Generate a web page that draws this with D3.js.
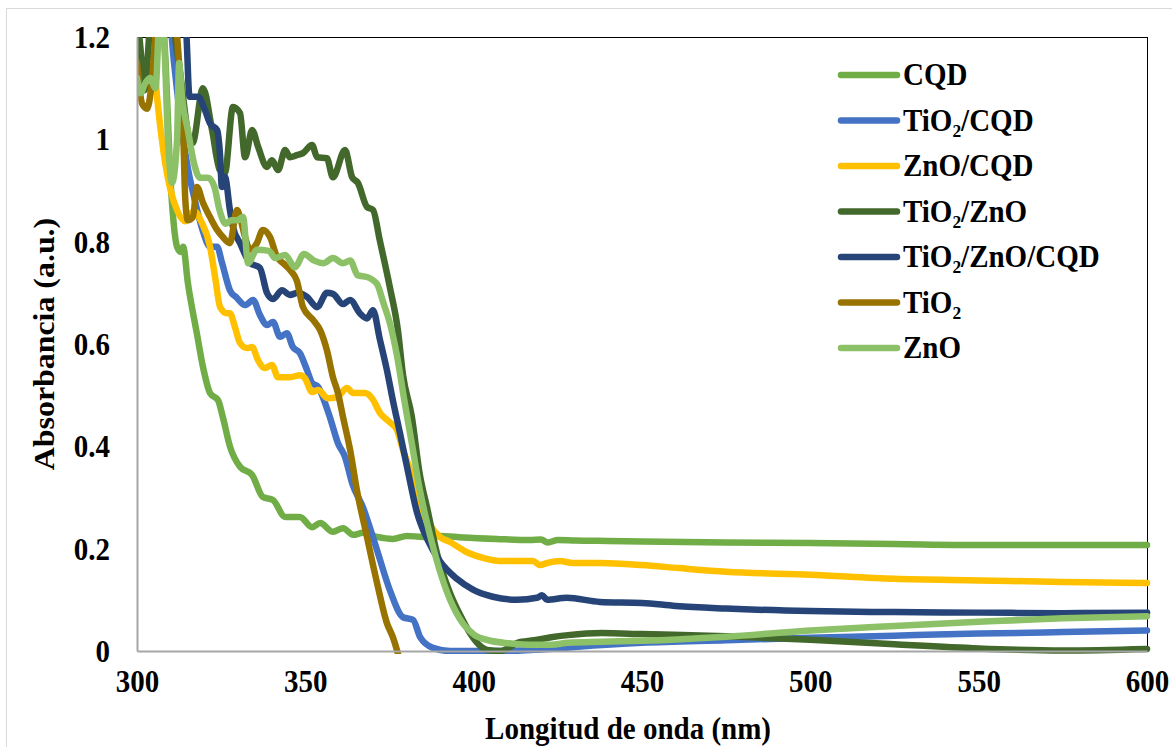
<!DOCTYPE html>
<html>
<head>
<meta charset="utf-8">
<script src="https://cdn.jsdelivr.net/npm/d3@7"></script>
<style>
  body { margin: 0; background: #fff; }
</style>
</head>
<body>
<svg id="chart" width="1172" height="747"></svg>
<script>
// UV-Vis absorbance spectra, wavelength (nm) vs absorbance (a.u.)
const cqdWl  = [300, 304, 307, 308.5, 309.8, 310.7, 311.9, 313.0, 313.7, 315.1, 317.8, 319.6, 321.7, 324.1, 325.5, 327.6, 330.6, 334.2, 337.4, 340.4, 344.0, 348.4, 352.0, 354.4, 358.2, 361.2, 364.2, 367.1, 371.3, 376.0, 380.2, 384.9, 390.0, 396.8, 406.9, 416.7, 420, 422, 425, 430, 440, 450, 475, 500, 525, 550, 575, 600];
const cqdAbs = [1.3, 1.3, 1.28, 1.15, 0.94, 0.85, 0.79, 0.78, 0.79, 0.72, 0.62, 0.555, 0.504, 0.49, 0.457, 0.40, 0.36, 0.344, 0.301, 0.295, 0.262, 0.262, 0.242, 0.25, 0.233, 0.24, 0.227, 0.231, 0.223, 0.219, 0.225, 0.223, 0.225, 0.222, 0.219, 0.217, 0.218, 0.212, 0.217, 0.216, 0.215, 0.214, 0.212, 0.211, 0.209, 0.207, 0.207, 0.207];

const tiCqdWl  = [300, 305, 309, 311, 313.7, 315.1, 317.2, 319.6, 321.7, 323.8, 325.2, 327.6, 329.7, 332.1, 334.5, 336.5, 338.6, 340.4, 342.5, 344.5, 346.3, 348.4, 350.5, 352.0, 353.8, 355.2, 357.3, 359.7, 361.8, 363.9, 367.1, 371.3, 375.1, 379.0, 382.0, 384.1, 387.9, 393, 400, 410, 420, 430, 450, 475, 500, 525, 550, 575, 600];
const tiCqdAbs = [1.3, 1.3, 1.28, 1.15, 1.0, 0.944, 0.88, 0.82, 0.79, 0.79, 0.76, 0.705, 0.69, 0.676, 0.686, 0.657, 0.637, 0.643, 0.614, 0.621, 0.594, 0.582, 0.549, 0.524, 0.516, 0.496, 0.457, 0.406, 0.379, 0.328, 0.281, 0.197, 0.119, 0.066, 0.061, 0.027, 0.006, 0.0, 0.0, 0.0, 0.003, 0.008, 0.016, 0.021, 0.026, 0.030, 0.034, 0.037, 0.040];

const znCqdWl  = [300, 303, 304.5, 306, 308, 310, 312, 314.3, 315.5, 317, 319, 321.7, 323.2, 324.7, 326.7, 327.6, 329.1, 330.6, 332.7, 334.2, 335.9, 338, 340.1, 341.9, 345.4, 348.4, 349.9, 352, 353.8, 356.7, 359.4, 362.4, 364.2, 367.7, 369.8, 372.2, 375.1, 377.2, 379, 381.1, 382.5, 383.5, 387, 390, 393, 398, 402.8, 407.8, 417.6, 419.7, 421.8, 425.6, 429.5, 437.5, 450, 461, 475, 500, 525, 550, 575, 600];
const znCqdAbs = [1.3, 1.25, 1.2, 1.08, 0.97, 0.9, 0.86, 0.84, 0.85, 0.86, 0.84, 0.79, 0.731, 0.672, 0.66, 0.66, 0.633, 0.602, 0.592, 0.594, 0.569, 0.553, 0.559, 0.535, 0.535, 0.539, 0.533, 0.506, 0.51, 0.494, 0.496, 0.514, 0.504, 0.504, 0.494, 0.465, 0.447, 0.432, 0.393, 0.354, 0.318, 0.29, 0.246, 0.223, 0.213, 0.193, 0.182, 0.176, 0.176, 0.168, 0.172, 0.176, 0.172, 0.172, 0.168, 0.162, 0.155, 0.149, 0.141, 0.138, 0.135, 0.133];

const tiZnWl  = [300, 301, 302.3, 303.8, 305, 309.9, 312.8, 315.6, 316.5, 319.6, 322.3, 324.6, 326.1, 328.5, 330.6, 332.1, 334.2, 336, 338.6, 340.1, 341.9, 344, 345.4, 347.5, 349.3, 352, 353.5, 356.4, 358.2, 361.8, 363.9, 365.6, 368.3, 370.1, 372.1, 375.1, 377.5, 379, 381.6, 384, 386.1, 389.1, 393, 396.8, 398.9, 404, 408, 413, 418, 423, 428, 438, 450, 475, 500, 525, 550, 575, 600];
const tiZnAbs = [1.25, 1.18, 1.096, 1.22, 1.3, 1.25, 1.13, 1.0, 0.993, 1.10, 1.018, 0.94, 0.934, 1.063, 1.051, 0.965, 1.018, 0.985, 0.946, 0.959, 0.94, 0.979, 0.965, 0.969, 0.973, 0.989, 0.965, 0.963, 0.926, 0.979, 0.926, 0.915, 0.868, 0.862, 0.803, 0.711, 0.627, 0.54, 0.459, 0.345, 0.282, 0.191, 0.113, 0.06, 0.035, 0.002, 0.0, 0.016, 0.021, 0.027, 0.031, 0.035, 0.033, 0.029, 0.022, 0.013, 0.005, 0.001, 0.004];

const tiZnCqdWl  = [300, 310, 314.5, 315.6, 318.1, 320.2, 321.7, 323.8, 324.7, 325.2, 326.1, 327.6, 328.5, 330.6, 333.6, 336.5, 338.6, 340.4, 343.1, 345.4, 347.8, 350.5, 353.5, 356.4, 358.2, 361.2, 363.3, 366.2, 368.3, 370.1, 372.1, 374.2, 376, 378.1, 380.2, 383.2, 386.1, 390, 395, 399.8, 405.7, 412.9, 418.8, 420.3, 421.8, 427.7, 437.5, 450, 460, 475, 500, 525, 550, 575, 600];
const tiZnCqdAbs = [1.3, 1.3, 1.22, 1.083, 1.083, 1.057, 1.031, 1.018, 0.966, 0.907, 0.927, 0.862, 0.829, 0.797, 0.758, 0.749, 0.70, 0.688, 0.705, 0.696, 0.70, 0.692, 0.672, 0.70, 0.698, 0.678, 0.686, 0.66, 0.65, 0.666, 0.61, 0.55, 0.49, 0.426, 0.36, 0.27, 0.22, 0.175, 0.141, 0.12, 0.106, 0.10, 0.104, 0.109, 0.10, 0.104, 0.096, 0.094, 0.088, 0.083, 0.078, 0.076, 0.075, 0.074, 0.075];

const tiWl  = [300, 301.5, 303, 304.2, 305.5, 307, 310, 312.5, 313.7, 314.3, 315.1, 316.6, 317.8, 319.6, 321.7, 323.8, 325.5, 327.6, 329.7, 330.6, 332.1, 333.6, 335.6, 337.4, 339.5, 341.6, 343.4, 345.4, 347.5, 349.3, 352.3, 354.4, 356.4, 358.2, 359.7, 361.2, 363.3, 365.3, 368.3, 371.3, 374.2, 376.0, 377.2, 378.5];
const tiAbs = [1.15, 1.07, 1.06, 1.1, 1.2, 1.3, 1.3, 1.15, 1.024, 0.887, 0.842, 0.848, 0.907, 0.876, 0.848, 0.823, 0.809, 0.797, 0.862, 0.848, 0.809, 0.784, 0.797, 0.823, 0.809, 0.770, 0.758, 0.745, 0.723, 0.672, 0.647, 0.627, 0.588, 0.535, 0.504, 0.457, 0.393, 0.315, 0.223, 0.133, 0.055, 0.027, 0.002, -0.03];

const znWl  = [300, 301, 302.5, 303.9, 305.5, 306.8, 308, 309.2, 310.4, 311.9, 312.5, 313.4, 315.1, 316.9, 318.7, 321.1, 323, 324.5, 326.4, 327.9, 329.7, 331.5, 333.0, 335.6, 339.2, 341.0, 344.0, 346.9, 349.6, 352.6, 355.5, 358.2, 361.2, 363.3, 365.6, 368.3, 371.3, 373.2, 375.1, 377.2, 379.3, 381.6, 384.0, 386.7, 389.7, 393, 397, 400.1, 405, 410.5, 418, 423, 428, 438, 450, 475, 500, 525, 550, 575, 600];
const znAbs = [1.12, 1.09, 1.11, 1.12, 1.10, 1.25, 1.2, 1.0, 0.915, 1.0, 1.149, 1.08, 1.018, 0.954, 0.925, 0.925, 0.907, 0.862, 0.835, 0.842, 0.842, 0.848, 0.758, 0.784, 0.782, 0.768, 0.774, 0.750, 0.776, 0.763, 0.758, 0.768, 0.758, 0.763, 0.734, 0.731, 0.717, 0.68, 0.641, 0.578, 0.494, 0.407, 0.315, 0.235, 0.162, 0.1, 0.052, 0.032, 0.02, 0.015, 0.012, 0.012, 0.016, 0.018, 0.020, 0.028, 0.040, 0.049, 0.057, 0.064, 0.068];

const seriesNames  = ["CQD", "TiO₂/CQD", "ZnO/CQD", "TiO₂/ZnO", "TiO₂/ZnO/CQD", "TiO₂", "ZnO"];
const seriesColors = ["#70AD47", "#4472C4", "#FFC000", "#43682B", "#264478", "#997300", "#8CC168"];
const seriesWl  = [cqdWl, tiCqdWl, znCqdWl, tiZnWl, tiZnCqdWl, tiWl, znWl];
const seriesAbs = [cqdAbs, tiCqdAbs, znCqdAbs, tiZnAbs, tiZnCqdAbs, tiAbs, znAbs];

const xTicks = [300, 350, 400, 450, 500, 550, 600];
const yTicks = [0, 0.2, 0.4, 0.6, 0.8, 1, 1.2];
const xTitle = "Longitud de onda (nm)";
const yTitle = "Absorbancia (a.u.)";

// layout
const W = 1172, H = 747;
const plot = { left: 137, top: 37, right: 1147, bottom: 651 };
const stretch = 1.1;   // text is drawn slightly tall
const fontPx = 29;
const FONT = '"Liberation Serif", "Times New Roman", serif';

const svg = d3.select("#chart");

function styleText(sel) {
  return sel.style("font-family", FONT).style("font-weight", "bold").attr("fill", "#000");
}

// outer chart border
svg.append("rect")
  .attr("x", 6.5).attr("y", 8.5).attr("width", W + 20).attr("height", H + 20)
  .attr("fill", "#fff").attr("stroke", "#D9D9D9").attr("stroke-width", 1);

const x = d3.scaleLinear().domain([300, 600]).range([plot.left, plot.right]);
const y = d3.scaleLinear().domain([0, 1.2]).range([plot.bottom, plot.top]);

// plot frame: top/right black, left/bottom axes gray
svg.append("line").attr("x1", plot.left).attr("x2", plot.right).attr("y1", plot.top + 0.5).attr("y2", plot.top + 0.5)
  .attr("stroke", "#000").attr("stroke-width", 1);
svg.append("line").attr("x1", plot.right + 0.5).attr("x2", plot.right + 0.5).attr("y1", plot.top).attr("y2", plot.bottom)
  .attr("stroke", "#000").attr("stroke-width", 1);

svg.append("defs").append("clipPath").attr("id", "plotClip")
  .append("rect")
  .attr("x", plot.left).attr("y", plot.top)
  .attr("width", plot.right - plot.left + 4).attr("height", plot.bottom - plot.top + 3);

const line = d3.line()
  .x(d => x(d[0]))
  .y(d => y(d[1]))
  .curve(d3.curveMonotoneX);

const gLines = svg.append("g").attr("clip-path", "url(#plotClip)");
seriesNames.forEach((name, i) => {
  const pts = seriesWl[i].map((w, k) => [w, seriesAbs[i][k]]);
  gLines.append("path")
    .datum(pts)
    .attr("d", line)
    .attr("fill", "none")
    .attr("stroke", seriesColors[i])
    .attr("stroke-width", 6.5)
    .attr("stroke-linejoin", "round")
    .attr("stroke-linecap", "round");
});

// axes
const yAxis = d3.axisLeft(y).tickValues(yTicks).tickSize(0).tickPadding(27)
  .tickFormat(d => d3.format("~g")(d));
const gy = svg.append("g").attr("transform", `translate(${plot.left},0)`).call(yAxis);
gy.select(".domain").attr("stroke", "#A6A6A6").attr("stroke-width", 2);
styleText(gy.selectAll(".tick text"))
  .attr("font-size", fontPx)
  .attr("dy", null)
  .attr("dominant-baseline", "central")
  .attr("transform", `scale(1,${stretch})`);

const xAxis = d3.axisBottom(x).tickValues(xTicks).tickSize(0).tickPadding(0)
  .tickFormat(d3.format("d"));
const gx = svg.append("g").attr("transform", `translate(0,${plot.bottom})`).call(xAxis);
gx.select(".domain").attr("stroke", "#A6A6A6").attr("stroke-width", 2);
styleText(gx.selectAll(".tick text"))
  .attr("font-size", fontPx)
  .attr("y", 0).attr("dy", null)
  .attr("dominant-baseline", "central")
  .attr("transform", `translate(0,31) scale(1,${stretch})`);

// axis titles
styleText(svg.append("text"))
  .attr("text-anchor", "middle")
  .attr("font-size", fontPx)
  .attr("transform", `translate(628,739) scale(1,${stretch})`)
  .text(xTitle);

styleText(svg.append("text"))
  .attr("text-anchor", "middle")
  .attr("font-size", fontPx)
  .attr("transform", `translate(54,${(plot.top + plot.bottom) / 2}) rotate(-90) scale(${stretch},1)`)
  .text(yTitle);

// legend
const legend = svg.append("g");
const legRow0 = 75, legStep = 45.5;
seriesNames.forEach((name, i) => {
  const cy = legRow0 + i * legStep;
  legend.append("line")
    .attr("x1", 841).attr("x2", 897).attr("y1", cy).attr("y2", cy)
    .attr("stroke", seriesColors[i]).attr("stroke-width", 6.5).attr("stroke-linecap", "round");
  styleText(legend.append("text"))
    .attr("font-size", fontPx)
    .attr("dominant-baseline", "central")
    .attr("transform", `translate(903,${cy}) scale(1,${stretch})`)
    .text(name);
});
</script>
</body>
</html>
